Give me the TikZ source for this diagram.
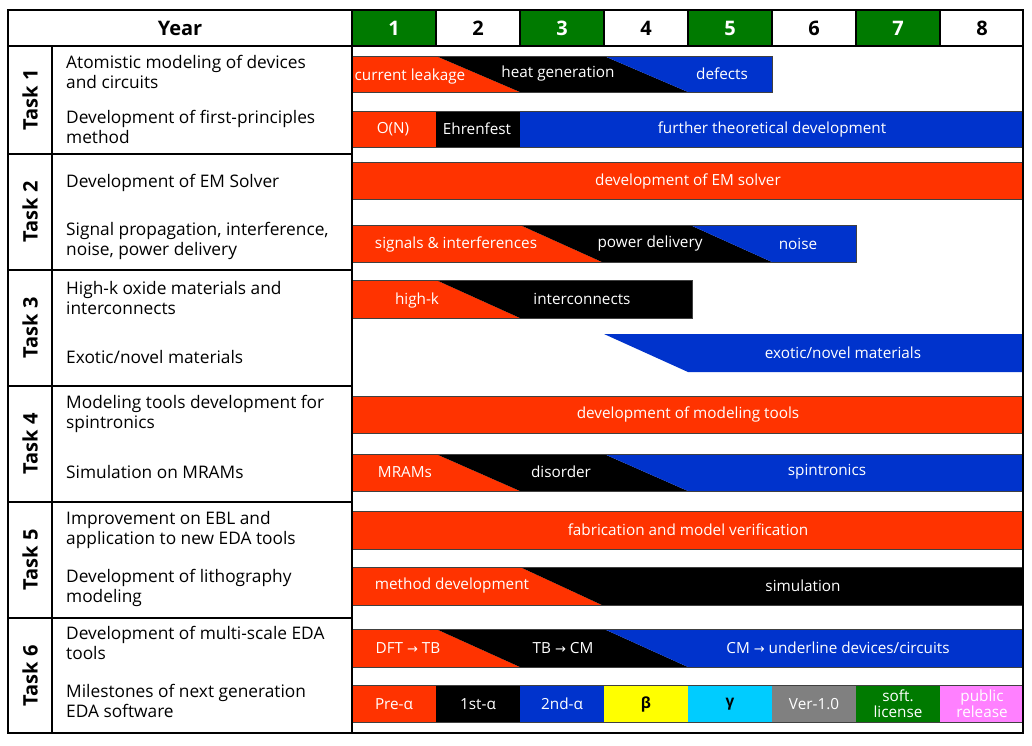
\documentclass[tikz,border=0pt]{standalone}
\usepackage{fontspec}
\setmainfont{Open Sans}
\newfontfamily\arrowfont{DejaVu Sans}
\definecolor{barred}{HTML}{FF3300}
\definecolor{barblue}{HTML}{0033CC}
\definecolor{hdrgreen}{HTML}{007A00}
\definecolor{msyellow}{HTML}{FFFF00}
\definecolor{mscyan}{HTML}{00CCFF}
\definecolor{msgrey}{HTML}{808080}
\definecolor{mspink}{HTML}{FF80FF}
\newcommand{\toarr}{{\arrowfont\fontsize{13}{14}\selectfont →}}

\begin{document}
\begin{tikzpicture}[x=1pt, y=-1pt,
    desc/.style={anchor=west, align=left, inner sep=0pt,
        font=\fontsize{17.3}{19.5}\selectfont},
    bartxt/.style={text=white, inner sep=0pt, font=\fontsize{15.3}{17}\selectfont},
    mstxt/.style={inner sep=0pt, align=center, font=\fontsize{15.3}{16}\selectfont},
    hdr/.style={inner sep=0pt, font=\bfseries\fontsize{20}{24}\selectfont},
    tasklab/.style={rotate=90, inner sep=0pt, font=\bfseries\fontsize{20}{24}\selectfont},
    barline/.style={draw=black!75, line width=0.8pt},
    grid/.style={line width=1.4pt}]

    \useasboundingbox (0,0) rectangle (1032,745);

    % Year header
    \fill[hdrgreen] (352,10) rectangle (436,46);
    \fill[hdrgreen] (520,10) rectangle (604,46);
    \fill[hdrgreen] (688,10) rectangle (772,46);
    \fill[hdrgreen] (856,10) rectangle (940,46);
    \node[hdr] (year) at (180,28) {Year};
    \node[hdr, text=white] (y1) at (394,28) {1};
    \node[hdr] (y2) at (478,28) {2};
    \node[hdr, text=white] (y3) at (562,28) {3};
    \node[hdr] (y4) at (646,28) {4};
    \node[hdr, text=white] (y5) at (730,28) {5};
    \node[hdr] (y6) at (814,28) {6};
    \node[hdr, text=white] (y7) at (898,28) {7};
    \node[hdr] (y8) at (982,28) {8};

    % Task 1
    \fill[barred] (352,56) -- (436,56) -- (520,92) -- (352,92) -- cycle;
    \fill[black] (436,56) -- (604,56) -- (688,92) -- (520,92) -- cycle;
    \fill[barblue] (604,56) -- (772,56) -- (772,92) -- (688,92) -- cycle;
    \draw[barline] (352,56) rectangle (772,92);
    \node[bartxt] (leak) at (410,77) {current leakage};
    \node[bartxt] (heat) at (558,74) {heat generation};
    \node[bartxt] (defects) at (722,74) {defects};

    \fill[barred] (352,111) rectangle (436,147);
    \fill[black] (436,111) rectangle (520,147);
    \fill[barblue] (520,111) rectangle (1023,147);
    \draw[barline] (352,111) rectangle (1023,147);
    \node[bartxt] (on) at (393,129) {O(N)};
    \node[bartxt] (ehren) at (477,129) {Ehrenfest};
    \node[bartxt] (further) at (772,129) {further theoretical development};

    % Task 2
    \fill[barred] (352,162) rectangle (1023,199);
    \draw[barline] (352,162) rectangle (1023,199);
    \node[bartxt] (emsolver) at (688,181) {development of EM solver};

    \fill[barred] (352,225) -- (520,225) -- (602,262) -- (352,262) -- cycle;
    \fill[black] (520,225) -- (690,225) -- (772,262) -- (602,262) -- cycle;
    \fill[barblue] (690,225) -- (856,225) -- (856,262) -- (772,262) -- cycle;
    \draw[barline] (352,225) rectangle (856,262);
    \node[bartxt] (signals) at (456,244) {signals \& interferences};
    \node[bartxt] (power) at (650,244) {power delivery};
    \node[bartxt] (noise) at (798,244) {noise};

    % Task 3
    \fill[barred] (352,280) -- (436,280) -- (520,318) -- (352,318) -- cycle;
    \fill[black] (436,280) -- (692,280) -- (692,318) -- (520,318) -- cycle;
    \draw[barline] (352,280) rectangle (692,318);
    \node[bartxt] (highk) at (417,301) {high-k};
    \node[bartxt] (inter) at (582,299) {interconnects};

    \fill[barblue] (604,334) -- (1023,334) -- (1023,372) -- (688,372) -- cycle;
    \node[bartxt] (exotic) at (843,353) {exotic/novel materials};

    % Task 4
    \fill[barred] (352,396) rectangle (1023,433);
    \draw[barline] (352,396) rectangle (1023,433);
    \node[bartxt] (tools) at (688,414) {development of modeling tools};

    \fill[barred] (352,454) -- (436,454) -- (520,491) -- (352,491) -- cycle;
    \fill[black] (436,454) -- (604,454) -- (688,491) -- (520,491) -- cycle;
    \fill[barblue] (604,454) -- (1023,454) -- (1023,491) -- (688,491) -- cycle;
    \draw[barline] (352,454) rectangle (1023,491);
    \node[bartxt] (mrams) at (405,472) {MRAMs};
    \node[bartxt] (disorder) at (561,472) {disorder};
    \node[bartxt] (spin) at (827,472) {spintronics};

    % Task 5
    \fill[barred] (352,511) rectangle (1023,549);
    \draw[barline] (352,511) rectangle (1023,549);
    \node[bartxt] (fab) at (688,530) {fabrication and model verification};

    \fill[barred] (352,567) -- (520,567) -- (602,605) -- (352,605) -- cycle;
    \fill[black] (520,567) -- (1023,567) -- (1023,605) -- (602,605) -- cycle;
    \draw[barline] (352,567) rectangle (1023,605);
    \node[bartxt] (method) at (452,586) {method development};
    \node[bartxt] (sim) at (803,586) {simulation};

    % Task 6
    \fill[barred] (352,629) -- (436,629) -- (520,667) -- (352,667) -- cycle;
    \fill[black] (436,629) -- (604,629) -- (688,667) -- (520,667) -- cycle;
    \fill[barblue] (604,629) -- (1023,629) -- (1023,667) -- (688,667) -- cycle;
    \draw[barline] (352,629) rectangle (1023,667);
    \node[bartxt] (dft) at (408,648) {DFT \toarr{} TB};
    \node[bartxt] (tb) at (563,648) {TB \toarr{} CM};
    \node[bartxt] (cm) at (838,648) {CM \toarr{} underline devices/circuits};

    % Milestones
    \fill[barred] (352,685) rectangle (436,722);
    \fill[black] (436,685) rectangle (520,722);
    \fill[barblue] (520,685) rectangle (604,722);
    \fill[msyellow] (604,685) rectangle (688,722);
    \fill[mscyan] (688,685) rectangle (772,722);
    \fill[msgrey] (772,685) rectangle (856,722);
    \fill[hdrgreen] (856,685) rectangle (940,722);
    \fill[mspink] (940,685) rectangle (1023,722);
    \draw[barline] (352,685) rectangle (1023,722);
    \node[mstxt, text=white] (prea) at (394,704) {Pre-α};
    \node[mstxt, text=white] (firsta) at (478,704) {1st-α};
    \node[mstxt, text=white] (seconda) at (562,704) {2nd-α};
    \node[mstxt, font=\bfseries\fontsize{15.3}{16}\selectfont] (beta) at (646,704) {β};
    \node[mstxt, font=\bfseries\fontsize{15.3}{16}\selectfont] (gamma) at (730,704) {γ};
    \node[mstxt, text=white] (ver) at (814,704) {Ver-1.0};
    \node[mstxt, text=white] (soft) at (898,704) {soft.\\license};
    \node[mstxt, text=white] (public) at (982,704) {public\\release};

    % Task labels
    \node[tasklab] (t1) at (30,100) {Task 1};
    \node[tasklab] (t2) at (30,212) {Task 2};
    \node[tasklab] (t3) at (30,328) {Task 3};
    \node[tasklab] (t4) at (30,444) {Task 4};
    \node[tasklab] (t5) at (30,560) {Task 5};
    \node[tasklab] (t6) at (30,676) {Task 6};

    % Descriptions
    \node[desc] (d1a) at (66,72) {Atomistic modeling of devices\\and circuits};
    \node[desc] (d1b) at (66,127) {Development of first-principles\\method};
    \node[desc] (d2a) at (66,183) {Development of EM Solver};
    \node[desc] (d2b) at (66,241) {Signal propagation, interference,\\noise, power delivery};
    \node[desc] (d3a) at (66,298) {High-k oxide materials and\\interconnects};
    \node[desc] (d3b) at (66,357) {Exotic/novel materials};
    \node[desc] (d4a) at (66,414) {Modeling tools development for\\spintronics};
    \node[desc] (d4b) at (66,472) {Simulation on MRAMs};
    \node[desc] (d5a) at (66,530) {Improvement on EBL and\\application to new EDA tools};
    \node[desc] (d5b) at (66,588) {Development of lithography\\modeling};
    \node[desc] (d6a) at (66,643) {Development of multi-scale EDA\\tools};
    \node[desc] (d6b) at (66,701) {Milestones of next generation\\EDA software};

    % Grid lines
    \draw[grid] (8,46) -- (1023,46);
    \draw[grid] (352,10) -- (352,733);
    \draw[grid] (52,46) -- (52,733);
    \draw[grid] (8,154) -- (352,154);
    \draw[grid] (8,270) -- (352,270);
    \draw[grid] (8,386) -- (352,386);
    \draw[grid] (8,502) -- (352,502);
    \draw[grid] (8,618) -- (352,618);
    \draw[grid] (436,10) -- (436,46);
    \draw[grid] (520,10) -- (520,46);
    \draw[grid] (604,10) -- (604,46);
    \draw[grid] (688,10) -- (688,46);
    \draw[grid] (772,10) -- (772,46);
    \draw[grid] (856,10) -- (856,46);
    \draw[grid] (940,10) -- (940,46);
    \draw[line width=2pt] (8,10) rectangle (1023,733);
\end{tikzpicture}
\end{document}
